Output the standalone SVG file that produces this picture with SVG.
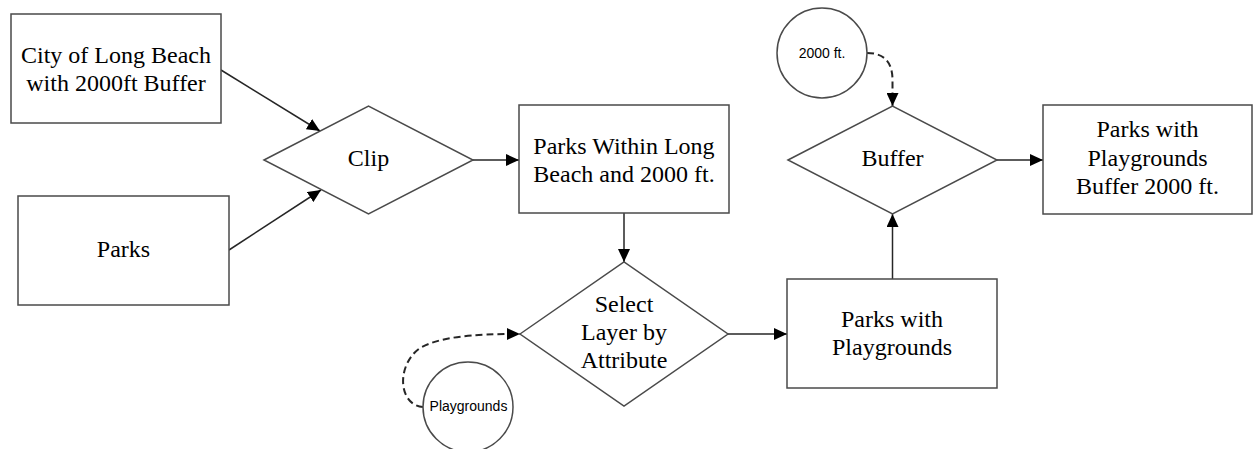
<svg xmlns="http://www.w3.org/2000/svg" width="1253" height="449" viewBox="0 0 1253 449">
  <style>
    .shape { fill: #ffffff; stroke: #4a4a4a; stroke-width: 1.5; }
    .label { font-family: "Liberation Serif", "Times New Roman", serif; font-size: 24px; fill: #000000; text-anchor: middle; }
    .small { font-family: "Liberation Sans", Arial, sans-serif; font-size: 14px; fill: #000000; text-anchor: middle; }
    .flow { fill: none; stroke: #262626; stroke-width: 1.5; marker-end: url(#arrow); }
    .dashed { stroke-width: 2; stroke-dasharray: 7 4; }
  </style>
  <defs>
    <marker id="arrow" markerUnits="userSpaceOnUse" markerWidth="14" markerHeight="12" refX="13" refY="6" orient="auto">
      <path d="M0,0 L13,6 L0,12 Z" fill="#000000"/>
    </marker>
  </defs>
  <rect width="1253" height="449" fill="#ffffff"/>

  <!-- connectors -->
  <g id="connectors">
    <path class="flow" d="M221,70 L320,131"/>
    <path class="flow" d="M229,250 L321,190"/>
    <path class="flow" d="M473,160 L519,160"/>
    <path class="flow" d="M624,213 L624,262"/>
    <path class="flow" d="M728,334 L787,334"/>
    <path class="flow" d="M892.5,279 L892.5,214"/>
    <path class="flow" d="M997,160 L1043,160"/>
    <path class="flow dashed" d="M867,53 C884,53 892.5,62 892.5,80 L892.5,106"/>
    <path class="flow dashed" d="M423,407 C398,405 396,365 420,348 C440,337 470,334 520,334"/>
  </g>

  <g id="city-buffer">
    <rect class="shape" x="11" y="14" width="210" height="109"/>
    <text class="label" x="116" y="63">City of Long Beach</text>
    <text class="label" x="116" y="91">with 2000ft Buffer</text>
  </g>

  <g id="parks">
    <rect class="shape" x="18" y="196" width="211" height="109"/>
    <text class="label" x="123.5" y="257">Parks</text>
  </g>

  <g id="clip">
    <polygon class="shape" points="264,160 368.5,106 473,160 368.5,214"/>
    <text class="label" x="368.5" y="166">Clip</text>
  </g>

  <g id="parks-within">
    <rect class="shape" x="519" y="105" width="210" height="108"/>
    <text class="label" x="624" y="154">Parks Within Long</text>
    <text class="label" x="624" y="182">Beach and 2000 ft.</text>
  </g>

  <g id="select-by-attribute">
    <polygon class="shape" points="520,334 624,262 728,334 624,406"/>
    <text class="label" x="624" y="312">Select</text>
    <text class="label" x="624" y="340">Layer by</text>
    <text class="label" x="624" y="368">Attribute</text>
  </g>

  <g id="playgrounds">
    <circle class="shape" cx="468" cy="407" r="45"/>
    <text class="small" x="468.5" y="411">Playgrounds</text>
  </g>

  <g id="parks-playgrounds">
    <rect class="shape" x="787" y="279" width="210" height="109"/>
    <text class="label" x="892" y="327">Parks with</text>
    <text class="label" x="892" y="355">Playgrounds</text>
  </g>

  <g id="distance">
    <circle class="shape" cx="822" cy="53" r="45"/>
    <text class="small" x="822" y="58">2000 ft.</text>
  </g>

  <g id="buffer">
    <polygon class="shape" points="788,160 892.5,106 997,160 892.5,214"/>
    <text class="label" x="892.5" y="166">Buffer</text>
  </g>

  <g id="parks-buffer">
    <rect class="shape" x="1043" y="105" width="209" height="109"/>
    <text class="label" x="1147.5" y="137">Parks with</text>
    <text class="label" x="1147.5" y="166">Playgrounds</text>
    <text class="label" x="1147.5" y="194">Buffer 2000 ft.</text>
  </g>
</svg>
